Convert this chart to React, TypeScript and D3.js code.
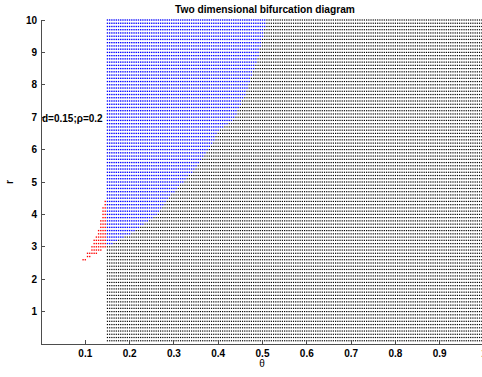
import React from "react";
import * as d3 from "d3";

// Parameter sweep grid
const thetaStart = 0.15;
const thetaEnd = 1.0;
const thetaStep = 0.005;
const rLevels = d3.range(1, 101).map((i) => i / 10); // r = 0.1 … 10

// Upper θ of the blue (periodic) region for r = 3.1 … 10, one entry per row
const blueRStart = 3.1;
const blueThetaMax = [
  0.16, 0.17, 0.185, 0.2, 0.21, 0.22, 0.23, 0.24, 0.25, 0.26,
  0.265, 0.27, 0.275, 0.28, 0.285, 0.29, 0.3, 0.305, 0.31, 0.32,
  0.325, 0.33, 0.34, 0.345, 0.35, 0.355, 0.36, 0.365, 0.37, 0.375,
  0.38, 0.385, 0.39, 0.39, 0.395, 0.4, 0.41, 0.42, 0.43, 0.435,
  0.44, 0.44, 0.445, 0.45, 0.45, 0.455, 0.46, 0.46, 0.465, 0.465,
  0.47, 0.47, 0.475, 0.475, 0.48, 0.48, 0.485, 0.485, 0.49, 0.49,
  0.49, 0.495, 0.495, 0.495, 0.5, 0.5, 0.5, 0.505, 0.505, 0.505,
];

// Red band for r = 2.6 … 4.4: [θ left, θ right] per row
const redRStart = 2.6;
const redBand: [number, number][] = [
  [0.095, 0.1], [0.105, 0.11], [0.105, 0.125], [0.115, 0.135], [0.115, 0.145],
  [0.12, 0.145], [0.12, 0.145], [0.125, 0.145], [0.13, 0.145], [0.13, 0.145],
  [0.135, 0.145], [0.135, 0.145], [0.135, 0.145], [0.14, 0.145], [0.14, 0.145],
  [0.14, 0.145], [0.14, 0.145], [0.145, 0.145], [0.145, 0.145],
];

const xTicks = [0.1, 0.2, 0.3, 0.4, 0.5, 0.6, 0.7, 0.8, 0.9, 1];
const yTicks = [1, 2, 3, 4, 5, 6, 7, 8, 9, 10];

const W = 482;
const H = 377;
const font = "'Liberation Sans', Arial, Helvetica, sans-serif";

export default function App() {
  const x = d3.scaleLinear().domain([0, 1]).range([41, 484]);
  const y = d3.scaleLinear().domain([0, 10]).range([344, 20]);

  const nTheta = Math.round((thetaEnd - thetaStart) / thetaStep) + 1;
  const thetas = d3.range(nTheta).map((i) => +(thetaStart + i * thetaStep).toFixed(4));

  const black: [number, number][] = [];
  const blue: [number, number][] = [];
  const red: [number, number][] = [];

  rLevels.forEach((r) => {
    const bi = Math.round((r - blueRStart) * 10);
    const tMax = bi >= 0 && bi < blueThetaMax.length ? blueThetaMax[bi] : -1;
    thetas.forEach((t) => {
      if (t <= tMax + 1e-9) blue.push([t, r]);
      else black.push([t, r]);
    });
    const ri = Math.round((r - redRStart) * 10);
    if (ri >= 0 && ri < redBand.length) {
      const [a, b] = redBand[ri];
      for (let t = a; t <= b + 1e-9; t += thetaStep) red.push([+t.toFixed(4), r]);
    }
  });

  const dots = (pts: [number, number][], color: string, key: string, s: number) =>
    pts.map(([t, r], i) => (
      <rect
        key={key + i}
        x={x(t) - s / 2}
        y={y(r) - s / 2}
        width={s}
        height={s}
        fill={color}
      />
    ));

  const axisColor = "#4d4d4d";

  return (
    <svg
      width={W}
      height={H}
      style={{ position: "absolute", left: 0, top: 0, background: "#fff" }}
    >
      <rect x={0} y={0} width={W} height={H} fill="#fff" />
      <g>
        {dots(black, "#000", "k", 1.2)}
        {dots(blue, "#0000ff", "b", 1.35)}
        {dots(red, "#ff0000", "r", 1.35)}
      </g>

      {/* axes */}
      <g shapeRendering="crispEdges" stroke={axisColor} strokeWidth={1}>
        <line x1={x(0)} x2={x(0)} y1={y(0)} y2={y(10)} />
        <line x1={x(0)} x2={W} y1={y(0)} y2={y(0)} />
        {xTicks.map((t) => (
          <line key={"xt" + t} x1={x(t)} x2={x(t)} y1={y(0)} y2={y(0) - 4} />
        ))}
        {yTicks.map((t) => (
          <line key={"yt" + t} x1={x(0)} x2={x(0) + 4} y1={y(t)} y2={y(t)} />
        ))}
      </g>

      <g fontFamily={font} fontWeight="bold" fontSize={10} fill="#000">
        {xTicks.map((t) => (
          <text key={"xl" + t} x={x(t)} y={y(0) + 13} textAnchor="middle">
            {String(t)}
          </text>
        ))}
        {yTicks.map((t) => (
          <text key={"yl" + t} x={x(0) - 4} y={y(t) + 3.5} textAnchor="end">
            {String(t)}
          </text>
        ))}
      </g>

      <text
        x={265}
        y={13}
        textAnchor="middle"
        fontFamily={font}
        fontWeight="bold"
        fontSize={10.2}
      >
        Two dimensional bifurcation diagram
      </text>
      <text x={262} y={367} textAnchor="middle" fontFamily={font} fontSize={10}>
        θ
      </text>
      <text
        transform={`translate(13, 182) rotate(-90)`}
        textAnchor="middle"
        fontFamily={font}
        fontWeight="bold"
        fontSize={10}
      >
        r
      </text>
      <text x={42} y={122} fontFamily={font} fontWeight="bold" fontSize={10}>
        d=0.15;ρ=0.2
      </text>
    </svg>
  );
}
